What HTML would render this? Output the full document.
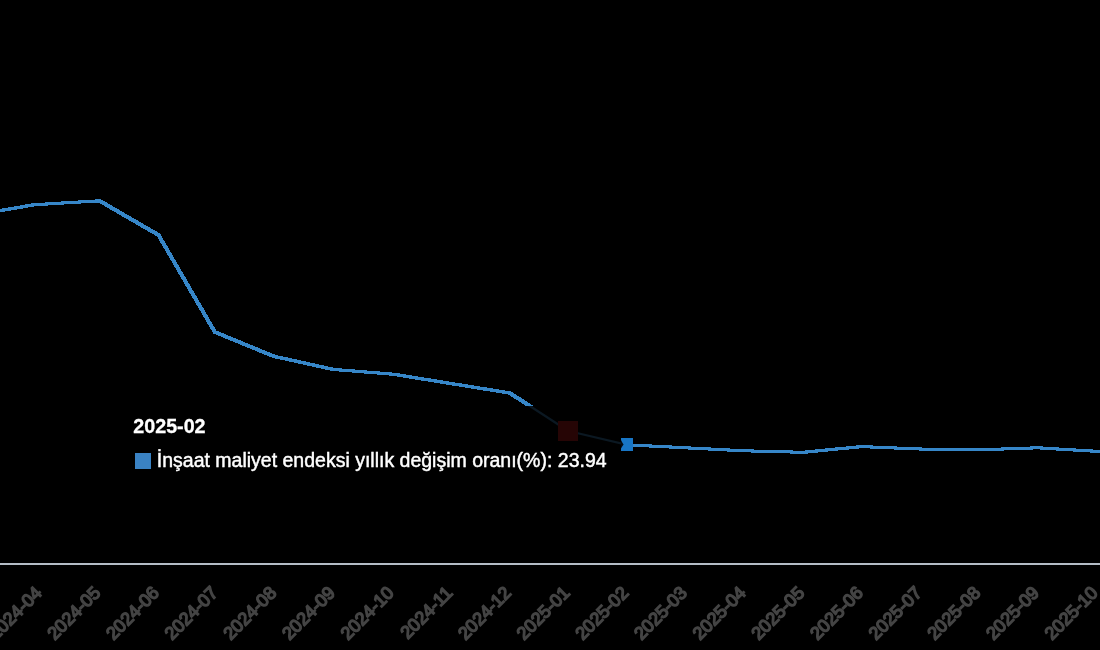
<!DOCTYPE html>
<html><head><meta charset="utf-8"><style>
html,body{margin:0;padding:0;background:#000;width:1100px;height:650px;overflow:hidden}
svg{display:block;will-change:transform}
</style></head><body>
<svg width="1100" height="650" viewBox="0 0 1100 650">
<defs><clipPath id="box"><rect x="100" y="406" width="521" height="114"/></clipPath></defs>
<rect x="0" y="0" width="1100" height="650" fill="#000"/>
<rect x="0" y="563" width="1100" height="2" fill="#b4bcc6"/>
<path d="M-25.50,213.30 L33.10,203.20 L36.10,203.20 L36.10,206.20 L-22.50,216.30 L-25.50,216.30Z M33.10,203.20 L98.00,199.30 L101.00,199.30 L101.00,202.30 L36.10,206.20 L33.10,206.20Z M98.00,199.30 L101.00,199.30 L160.00,233.50 L160.00,236.50 L157.00,236.50 L98.00,202.30Z M157.00,233.50 L160.00,233.50 L216.30,330.50 L216.30,333.50 L213.30,333.50 L157.00,236.50Z M213.30,330.50 L216.30,330.50 L275.30,354.80 L275.30,357.80 L272.30,357.80 L213.30,333.50Z M272.30,354.80 L275.30,354.80 L334.50,367.90 L334.50,370.90 L331.50,370.90 L272.30,357.80Z M331.50,367.90 L334.50,367.90 L394.50,372.70 L394.50,375.70 L391.50,375.70 L331.50,370.90Z M391.50,372.70 L394.50,372.70 L511.30,391.50 L511.30,394.50 L508.30,394.50 L391.50,375.70Z M508.30,391.50 L511.30,391.50 L569.80,429.50 L569.80,432.50 L566.80,432.50 L508.30,394.50Z M566.80,429.50 L569.80,429.50 L628.50,443.30 L628.50,446.30 L625.50,446.30 L566.80,432.50Z M625.50,443.30 L628.50,443.30 L687.20,446.30 L687.20,449.30 L684.20,449.30 L625.50,446.30Z M684.20,446.30 L687.20,446.30 L745.80,449.30 L745.80,452.30 L742.80,452.30 L684.20,449.30Z M742.80,449.30 L745.80,449.30 L804.50,450.80 L804.50,453.80 L801.50,453.80 L742.80,452.30Z M801.50,450.80 L860.20,445.10 L863.20,445.10 L863.20,448.10 L804.50,453.80 L801.50,453.80Z M860.20,445.10 L863.20,445.10 L921.80,447.50 L921.80,450.50 L918.80,450.50 L860.20,448.10Z M918.80,447.50 L921.80,447.50 L980.50,448.30 L980.50,451.30 L977.50,451.30 L918.80,450.50Z M977.50,448.30 L1036.20,446.30 L1039.20,446.30 L1039.20,449.30 L980.50,451.30 L977.50,451.30Z M1036.20,446.30 L1039.20,446.30 L1097.80,449.80 L1097.80,452.80 L1094.80,452.80 L1036.20,449.30Z M1094.80,449.80 L1097.80,449.80 L1156.50,452.50 L1156.50,455.50 L1153.50,455.50 L1094.80,452.80Z" fill="#3686c8" shape-rendering="crispEdges"/>
<rect x="100" y="406" width="521" height="114" fill="#000"/>
<polyline points="509.8,393.0 568.3,431.0 627.0,444.8" clip-path="url(#box)" fill="none" stroke="#0b1822" stroke-width="2.3" stroke-linejoin="round"/>
<rect x="558" y="421" width="20" height="20" fill="#260505"/>
<rect x="621" y="438" width="12" height="13" fill="#1876c6" shape-rendering="crispEdges"/>
<path d="M621,440 Q622.4,443 623.6,444.4 Q622.4,445.8 621,448.5 Z" fill="#040c12"/>
<g font-family="'Liberation Sans', sans-serif" font-size="18" fill="#444" stroke="#444" stroke-width="1.5">
<text transform="translate(-15.8,594) rotate(-45)" text-anchor="end">2024-03</text>
<text transform="translate(42.8,594) rotate(-45)" text-anchor="end">2024-04</text>
<text transform="translate(101.5,594) rotate(-45)" text-anchor="end">2024-05</text>
<text transform="translate(160.2,594) rotate(-45)" text-anchor="end">2024-06</text>
<text transform="translate(218.8,594) rotate(-45)" text-anchor="end">2024-07</text>
<text transform="translate(277.5,594) rotate(-45)" text-anchor="end">2024-08</text>
<text transform="translate(336.2,594) rotate(-45)" text-anchor="end">2024-09</text>
<text transform="translate(394.8,594) rotate(-45)" text-anchor="end">2024-10</text>
<text transform="translate(453.5,594) rotate(-45)" text-anchor="end">2024-11</text>
<text transform="translate(512.2,594) rotate(-45)" text-anchor="end">2024-12</text>
<text transform="translate(570.8,594) rotate(-45)" text-anchor="end">2025-01</text>
<text transform="translate(629.5,594) rotate(-45)" text-anchor="end">2025-02</text>
<text transform="translate(688.2,594) rotate(-45)" text-anchor="end">2025-03</text>
<text transform="translate(746.8,594) rotate(-45)" text-anchor="end">2025-04</text>
<text transform="translate(805.5,594) rotate(-45)" text-anchor="end">2025-05</text>
<text transform="translate(864.2,594) rotate(-45)" text-anchor="end">2025-06</text>
<text transform="translate(922.8,594) rotate(-45)" text-anchor="end">2025-07</text>
<text transform="translate(981.5,594) rotate(-45)" text-anchor="end">2025-08</text>
<text transform="translate(1040.2,594) rotate(-45)" text-anchor="end">2025-09</text>
<text transform="translate(1098.8,594) rotate(-45)" text-anchor="end">2025-10</text>
<text transform="translate(1157.5,594) rotate(-45)" text-anchor="end">2025-11</text>
</g>
<text x="133.3" y="433" font-family="'Liberation Sans', sans-serif" font-weight="bold" font-size="19.7" fill="#fff" stroke="#fff" stroke-width="0.3">2025-02</text>
<rect x="135" y="453" width="16" height="16" fill="#3a82c3"/>
<text x="156.8" y="467" font-family="'Liberation Sans', sans-serif" font-size="19.5" fill="#fff" stroke="#fff" stroke-width="0.45">İnşaat maliyet endeksi yıllık değişim oranı(%): 23.94</text>
</svg>
</body></html>
